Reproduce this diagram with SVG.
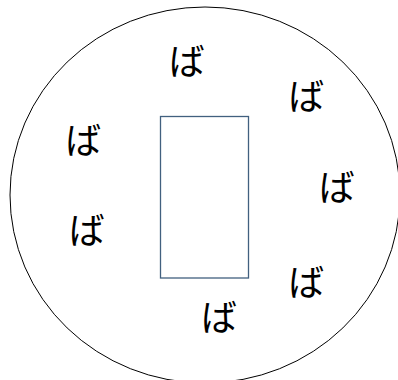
<svg xmlns="http://www.w3.org/2000/svg" width="398" height="380" viewBox="0 0 398 380">
<style>
.t{font-family:"Noto Sans CJK JP","Noto Sans",sans-serif;font-size:36px;fill:#000;text-anchor:middle;dominant-baseline:central}
</style>
<rect width="398" height="380" fill="#fff"/>
<g id="outer"><ellipse cx="205" cy="195" rx="195" ry="188" fill="none" stroke="#000" stroke-width="1"/></g>
<g id="box"><rect x="160.5" y="116.5" width="88" height="161.5" fill="#fff" stroke="#41607f" stroke-width="1.3"/></g>
<g id="labels">
<text class="t" x="186.7" y="59">ば</text>
<text class="t" x="306.3" y="94">ば</text>
<text class="t" x="83.3" y="137.5">ば</text>
<text class="t" x="336.7" y="184.5">ば</text>
<text class="t" x="86.7" y="227.5">ば</text>
<text class="t" x="306.3" y="280">ば</text>
<text class="t" x="219" y="315">ば</text>
</g>
</svg>
